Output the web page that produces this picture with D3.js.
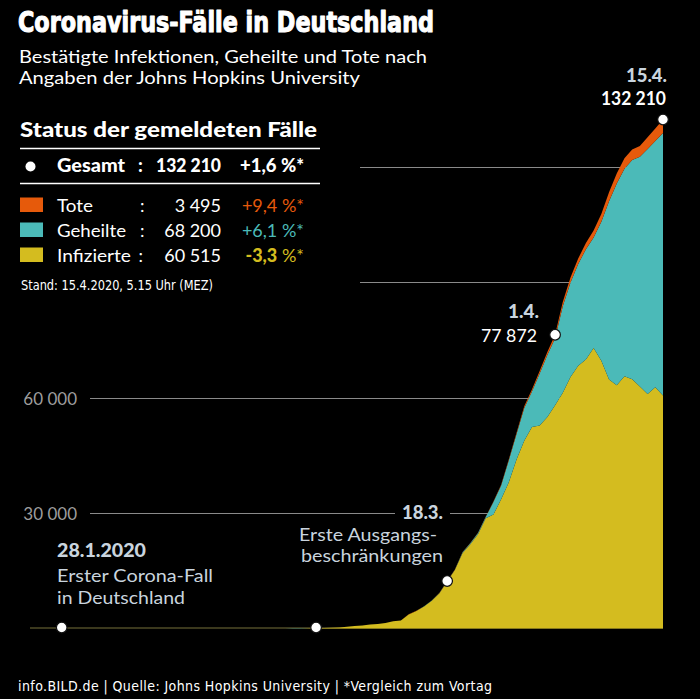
<!DOCTYPE html>
<html><head><meta charset="utf-8">
<script src="https://cdn.jsdelivr.net/npm/d3@7"></script>
<style>html,body{margin:0;padding:0;background:#000;}svg{display:block;}</style>
</head><body>
<script>
// ---------- data ----------
const dates = ["2020-01-28","2020-02-01","2020-02-04","2020-02-10","2020-02-21","2020-02-25","2020-02-26","2020-02-27","2020-02-28","2020-02-29",
"2020-03-01","2020-03-02","2020-03-03","2020-03-04","2020-03-05","2020-03-06","2020-03-07","2020-03-08","2020-03-09","2020-03-10",
"2020-03-11","2020-03-12","2020-03-13","2020-03-14","2020-03-15","2020-03-16","2020-03-17","2020-03-18","2020-03-19","2020-03-20",
"2020-03-21","2020-03-22","2020-03-23","2020-03-24","2020-03-25","2020-03-26","2020-03-27","2020-03-28","2020-03-29","2020-03-30",
"2020-03-31","2020-04-01","2020-04-02","2020-04-03","2020-04-04","2020-04-05","2020-04-06","2020-04-07","2020-04-08","2020-04-09",
"2020-04-10","2020-04-11","2020-04-12","2020-04-13","2020-04-14","2020-04-15"];
const infizierte = [4,8,12,14,2,3,12,30,32,63,
114,143,180,246,466,653,781,1022,1156,1437,
1880,2050,3622,4530,5738,7188,9166,12194,15163,19601,
21896,24513,28667,29586,33570,37998,43871,48781,52351,52740,
54933,57980,61247,65309,68248,69839,72864,69566,64647,63167,
65491,64750,62830,60930,62670,60515];
const geheilte = [0,0,0,0,14,14,15,16,16,16,
16,16,16,16,16,17,18,18,18,18,
25,25,46,46,46,67,67,105,113,180,
233,266,266,3243,3547,5673,6658,8481,9211,13500,
16100,17400,22440,24575,26400,28700,28700,36081,46300,52407,
53913,56950,59700,63620,63980,68200];
const tote = [0,0,0,0,0,0,0,0,0,0,
0,0,0,0,0,0,0,0,2,2,
3,3,7,9,11,17,24,28,44,67,
84,94,123,157,206,267,342,433,533,645,
775,920,1107,1275,1444,1584,1810,2016,2349,2607,
2767,2700,2770,3050,3250,3495];

const yTicks = [30000, 60000, 90000, 120000];
const yTickLabels = ["30 000", "60 000", "", ""];

const legendNames = ["Tote", "Geheilte", "Infizierte"];
const legendValues = ["3 495", "68 200", "60 515"];
const legendChanges = ["+9,4", "+6,1", "-3,3"];
const totalLabel = "132 210";
const totalChange = "+1,6";

const markerDates = ["2020-01-28","2020-03-01","2020-03-18","2020-04-01","2020-04-15"];

// ---------- setup ----------
const W = 700, H = 699;
const colors = {tote:"#e65a0b", geheilte:"#4bbab8", infizierte:"#d4bc1f"};
const labelBlue = "#c9d4de";
const svg = d3.select("body").append("svg").attr("width", W).attr("height", H);
svg.append("rect").attr("width", W).attr("height", H).attr("fill", "#000");

const parse = d3.timeParse("%Y-%m-%d");
const rows = dates.map((d,i)=>({date:parse(d), infizierte:infizierte[i], geheilte:geheilte[i], tote:tote[i]}));

const x = d3.scaleTime().domain([parse("2020-01-28"), parse("2020-04-15")]).range([61.7, 663]);
const y = d3.scaleLinear().domain([0, 120000]).range([628.5, 166.5]);

const condensed = "'Liberation Sans Narrow','DejaVu Sans Condensed',Roboto,sans-serif";
const regular = "Lato,'Open Sans',sans-serif";

function txt(g, xx, yy, s, o={}) {
  const t = g.append("text").attr("x", xx).attr("y", yy).text(s)
    .attr("font-family", o.family || regular)
    .attr("font-size", o.size || 16)
    .attr("font-weight", o.weight || "normal")
    .attr("fill", o.fill || "#fff")
    .attr("text-anchor", o.anchor || "start");
  if (o.width) t.attr("textLength", o.width).attr("lengthAdjust", o.adjust || "spacingAndGlyphs");
  if (o.stroke) t.attr("stroke", o.fill || "#fff").attr("stroke-width", o.stroke).attr("stroke-linejoin", "round");
  return t;
}

// ---------- gridlines ----------
const grid = svg.append("g");
yTicks.forEach((v,i)=>{
  const yy = Math.round(y(v)) + 0.5;
  const x0 = i < 2 ? 90 : 360;
  grid.append("line").attr("x1", x0).attr("x2", x.range()[1]).attr("y1", yy).attr("y2", yy)
    .attr("stroke", "#8a8a8a").attr("stroke-width", 1);
  if (yTickLabels[i]) txt(grid, 77, yy + 6, yTickLabels[i], {size:17, fill:"#9d9d9d", anchor:"end"});
});

// baseline
svg.append("line").attr("x1", 30).attr("x2", x.range()[1]).attr("y1", y(0)-0.5).attr("y2", y(0)-0.5)
  .attr("stroke", "#77713a").attr("stroke-width", 1);

// ---------- areas ----------
const keys = ["infizierte", "geheilte", "tote"];
const stack = d3.stack().keys(keys)(rows);
const area = d3.area().x(d=>x(d.data.date)).y0(d=>y(d[0])).y1(d=>y(d[1])).curve(d3.curveLinear);
svg.append("g").selectAll("path").data(stack).join("path")
  .attr("d", area).attr("fill", d=>colors[d.key]);

// ---------- annotations ----------
const ann = svg.append("g");
const l183 = txt(ann, 443, 519, "18.3.", {size:19, weight:900, fill:labelBlue, anchor:"end", width:41});
const bb = l183.node().getBBox();
ann.insert("rect", "text").attr("x", bb.x - 7).attr("y", bb.y).attr("width", bb.width + 14).attr("height", bb.height).attr("fill", "#000");
l183.raise();
txt(ann, 437, 541, "Erste Ausgangs-", {size:17.5, fill:labelBlue, anchor:"end", width:138});
txt(ann, 443, 562, "beschränkungen", {size:17.5, fill:labelBlue, anchor:"end", width:142});

txt(ann, 57, 557, "28.1.2020", {size:19, weight:900, fill:labelBlue, width:89});
txt(ann, 57, 582, "Erster Corona-Fall", {size:17.5, fill:labelBlue, width:156});
txt(ann, 57, 604, "in Deutschland", {size:17.5, fill:labelBlue, width:128});

txt(ann, 539, 318, "1.4.", {size:19, weight:900, fill:labelBlue, anchor:"end", width:31});
txt(ann, 537, 342, "77 872", {size:17.5, fill:"#fff", anchor:"end", width:56});

txt(ann, 667, 82, "15.4.", {size:19, weight:900, fill:labelBlue, anchor:"end", width:41});
txt(ann, 666, 104.5, totalLabel, {size:19, weight:"bold", fill:"#fff", anchor:"end", width:65});

// dots
const totalAt = ds => { const r = rows.find(r=>+r.date===+parse(ds)); return r.infizierte + r.geheilte + r.tote; };
svg.append("g").selectAll("circle").data(markerDates).join("circle")
  .attr("cx", d=>x(parse(d))).attr("cy", d=>Math.min(y(totalAt(d)), y(0)-1))
  .attr("r", 5.3).attr("fill", "#fff").attr("stroke", "#111").attr("stroke-width", 1.2);

// ---------- title ----------
txt(svg, 18, 32, "Coronavirus-Fälle in Deutschland", {size:29, weight:"bold", family:condensed, width:416, stroke:1.1});
txt(svg, 19, 63, "Bestätigte Infektionen, Geheilte und Tote nach", {size:18, width:408});
txt(svg, 19, 84, "Angaben der Johns Hopkins University", {size:18, width:341});

// ---------- table ----------
const tb = svg.append("g");
txt(tb, 20, 137, "Status der gemeldeten Fälle", {size:20, weight:900, width:297});
tb.append("line").attr("x1", 20).attr("x2", 320).attr("y1", 148.5).attr("y2", 148.5).attr("stroke", "#fff").attr("stroke-width", 1.3);
tb.append("circle").attr("cx", 30.5).attr("cy", 166.5).attr("r", 5).attr("fill", "#fff");
txt(tb, 57, 172, "Gesamt", {size:18.5, weight:900, width:68});
txt(tb, 138, 172, ":", {size:18.5, weight:900});
txt(tb, 221, 172, totalLabel, {size:18.5, weight:900, anchor:"end", width:65});
txt(tb, 240, 172, totalChange + " %*", {size:18.5, weight:900, width:64});
tb.append("line").attr("x1", 20).attr("x2", 320).attr("y1", 183.5).attr("y2", 183.5).attr("stroke", "#fff").attr("stroke-width", 1.3);

const legColors = [colors.tote, colors.geheilte, colors.infizierte];
const nameW = [36, 69, 74];
legendNames.forEach((n,i)=>{
  const yy = 211.5 + i*25;
  tb.append("rect").attr("x", 20).attr("y", yy - 14).attr("width", 23).attr("height", 14.5).attr("fill", legColors[i]);
  txt(tb, 57, yy, n, {size:18, width:nameW[i]});
  txt(tb, i===2 ? 138.5 : 140, yy, ":", {size:18});
  txt(tb, 221, yy, legendValues[i], {size:18, anchor:"end"});
  const t = tb.append("text").attr("x", 304).attr("y", yy).attr("text-anchor", "end")
    .attr("font-family", regular).attr("font-size", 18).attr("fill", legColors[i]);
  t.append("tspan").attr("font-weight", i===2 ? 900 : "normal").text(legendChanges[i]);
  t.append("tspan").text(" %*");
});
txt(tb, 21, 290, "Stand: 15.4.2020, 5.15 Uhr (MEZ)", {size:14.5, family:condensed, width:192});

// ---------- footer ----------
txt(svg, 18, 691, "info.BILD.de | Quelle: Johns Hopkins University | *Vergleich zum Vortag", {size:14, family:condensed, width:474, adjust:"spacing"});
</script>
</body></html>
